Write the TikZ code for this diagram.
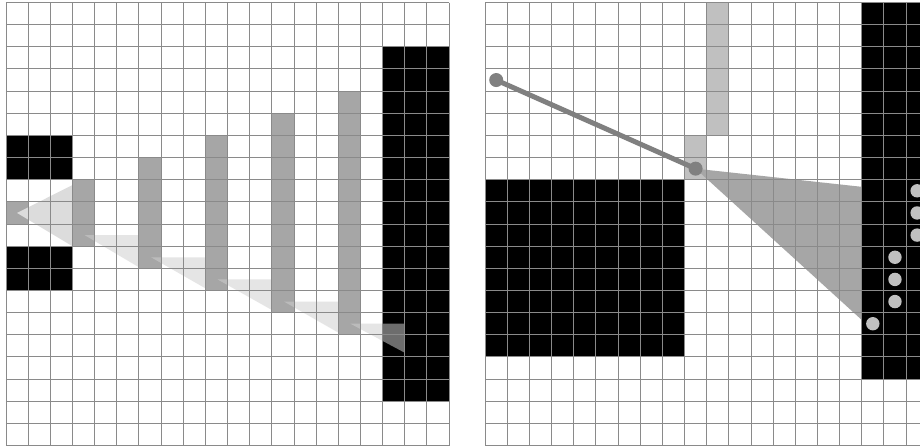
\documentclass[tikz,border=0pt]{standalone}
\usepackage{tikz}
\usetikzlibrary{positioning}
\definecolor{bargray}{HTML}{A6A6A6}
\definecolor{palegray}{HTML}{C0C0C0}
\definecolor{linegray}{HTML}{8A8A8A}
\definecolor{raygray}{HTML}{808080}
\definecolor{beamgray}{HTML}{DCDCDC}

\begin{document}
\begin{tikzpicture}[x=0.5cm,y=-0.5cm,
  gridline/.style={draw=linegray,line width=0.6pt},
  wall/.style={fill=black},
  seen/.style={fill=bargray},
  pale/.style={fill=palegray},
  beam/.style={fill=beamgray},
  shade/.style={fill=black!19,fill opacity=0.53},
  ray/.style={draw=raygray,line width=3.2pt},
  endpt/.style={circle,fill=raygray,inner sep=0pt,minimum size=9pt},
  dot/.style={circle,fill=palegray,inner sep=0pt,minimum size=8.6pt},
]
  \clip (-0.27,-0.113) rectangle (41.26,20.07);
  \fill[white] (-0.27,-0.113) rectangle (41.26,20.07);

  % Left grid: walls, visible columns and shadows
  \fill[wall] (0,6) rectangle (3,8);
  \fill[wall] (0,11) rectangle (3,13);
  \fill[wall] (17,2) rectangle (20,18);
  \fill[seen] (0,9) rectangle (1,10);
  \foreach \c/\t/\b in {3/8/11, 6/7/12, 9/6/13, 12/5/14, 15/4/15}
    \fill[seen] (\c,\t) rectangle (\c+1,\b);
  \fill[beam] (0.5,9.5) -- (3,8.24) -- (3,11) -- cycle;
  \foreach \x/\y/\b in {3.55/10.5/11.95, 6.55/11.5/12.9, 9.55/12.5/13.88,
                        12.55/13.5/14.9, 15.55/14.5/15.81}
    \fill[shade] (\x,\y) -- (\x+2.45,\y) -- (\x+2.45,\b) -- cycle;
  \foreach \i in {0,...,20} {
    \draw[gridline] (\i,0) -- (\i,20);
    \draw[gridline] (0,\i) -- (20,\i);
  }

  % Right grid: ray, cone and hit cells
  \begin{scope}[shift={(21.63,0)}]
    \fill[wall] (0,8) rectangle (9,16);
    \fill[wall] (17,0) rectangle (20,17);
    \fill[pale] (10,0) rectangle (11,6);
    \fill[pale] (9,6) rectangle (10,8);
    \fill[seen] (9.5,7.5) -- (17,8.32) -- (17,14.33) -- cycle;
    \foreach \i in {0,...,20} {
      \draw[gridline] (\i,0) -- (\i,20);
      \draw[gridline] (0,\i) -- (20,\i);
    }
    \node[endpt] (eye) at (0.5,3.5) {};
    \node[endpt] (hit) at (9.5,7.5) {};
    \draw[ray] (eye.center) -- (hit.center);
    \foreach \n/\x/\y in {1/19.5/8.5, 2/19.5/9.5, 3/19.5/10.5, 4/18.5/11.5,
                          5/18.5/12.5, 6/18.5/13.5, 7/17.5/14.5}
      \node[dot] (d\n) at (\x,\y) {};
  \end{scope}
\end{tikzpicture}
\end{document}
